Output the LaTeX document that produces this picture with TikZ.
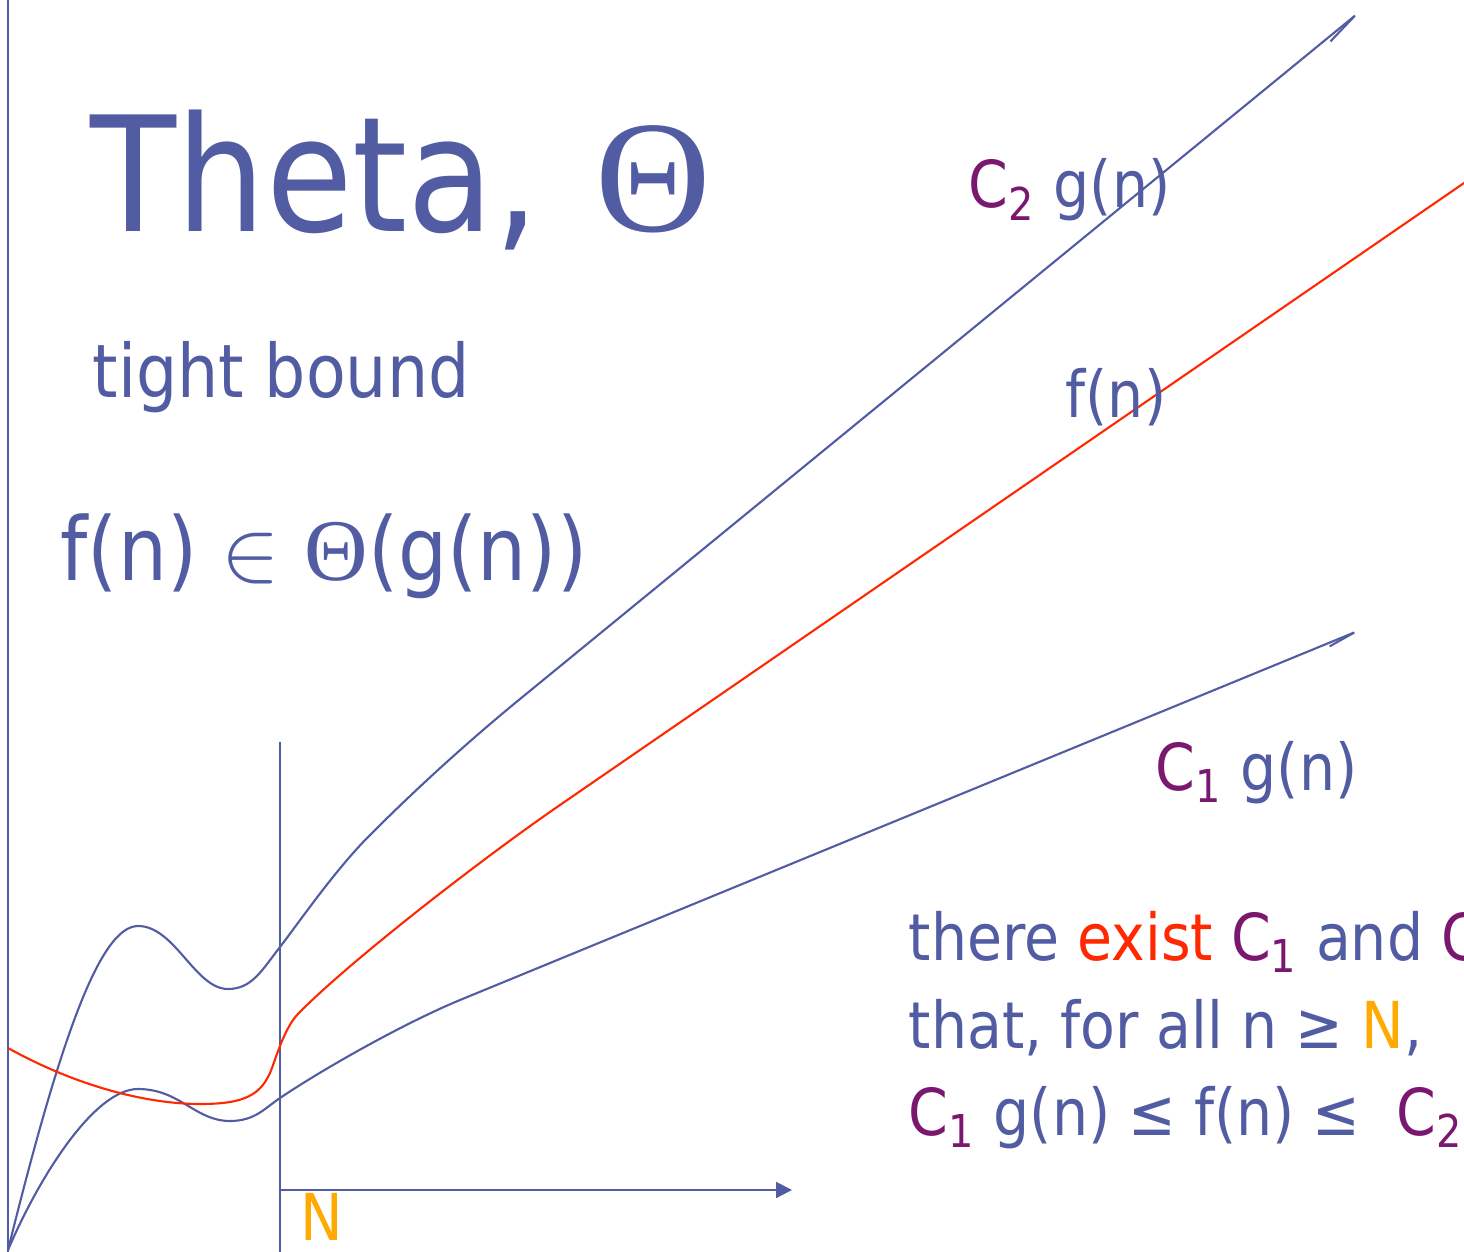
\documentclass[tikz,border=0pt]{standalone}
\usepackage{fontspec}
\setmainfont[FakeStretch=0.88]{DejaVu Sans}
\newfontfamily\greekfont{Liberation Serif}
\usetikzlibrary{arrows.meta}

\definecolor{slate}{RGB}{82,92,163}
\definecolor{plum}{RGB}{122,24,112}
\definecolor{hotred}{RGB}{255,40,0}
\definecolor{amber}{RGB}{255,170,0}

\newcommand{\Cone}{\textcolor{plum}{C\textsubscript{1}}}
\newcommand{\Ctwo}{\textcolor{plum}{C\textsubscript{2}}}

\begin{document}
\begin{tikzpicture}[
    x=0.01cm, y=-0.01cm,
    txt/.style={anchor=base west, inner sep=0pt, text=slate},
    small/.style={txt, font=\fontsize{18.4}{22}\selectfont},
    axis/.style={slate, line width=0.6pt},
    bound/.style={slate, line width=0.6pt},
    fline/.style={hotred, line width=0.6pt},
    barb/.style={-{Straight Barb[right, length=10pt, width=2.5pt]}},
    barbb/.style={-{Straight Barb[right, length=8pt, width=2pt]}}
]
\useasboundingbox (0,0) rectangle (1464,1252);
\clip (0,0) rectangle (1464,1252);

% axes
\coordinate (origin) at (8,1252);
\coordinate (top) at (8,0);
\coordinate (ntop) at (280,742);
\coordinate (nbot) at (280,1252);
\coordinate (xstart) at (280,1190);
\coordinate (xend) at (792,1190);
\draw[axis] (origin) -- (top);
\draw[axis] (nbot) -- (ntop);
\draw[axis, -{Triangle[length=4.5pt, width=4.5pt]}] (xstart) -- (xend);

% curve ends
\coordinate (start) at (8,1250);
\coordinate (uppertip) at (1368,5);
\coordinate (lowertip) at (1370,626);
\coordinate (fstart) at (8,1048);
\coordinate (fend) at (1480,172);

% C2 g(n)
\draw[bound, barb] (start) .. controls (60,1040) and (100,926) .. (138,926)
    .. controls (175,926) and (195,989) .. (228,989)
    .. controls (252,989) and (262,970) .. (280,947)
    .. controls (300,921) and (335,870) .. (370,835)
    .. controls (420,785) and (470,740) .. (520,699) -- (uppertip);
% C1 g(n)
\draw[bound, barbb] (start) .. controls (40,1175) and (95,1089) .. (138,1089)
    .. controls (180,1089) and (195,1121) .. (230,1121)
    .. controls (255,1121) and (265,1108) .. (280,1098)
    .. controls (320,1071) and (400,1025) .. (460,1000) -- (lowertip);
% f(n)
\draw[fline] (fstart) .. controls (80,1088) and (150,1104) .. (200,1104)
    .. controls (245,1104) and (262,1095) .. (272,1068)
    .. controls (276,1057) and (285,1028) .. (297,1015)
    .. controls (345,965) and (480,860) .. (560,805) -- (fend);

% texts
\node[txt, font=\fontsize{45.5}{54}\selectfont] (title) at (90,232)
    {Theta,\kern3.5pt{} {\greekfont Θ}};
\node[txt, font=\fontsize{21}{25}\selectfont] (tight) at (92,398) {tight bound};
\node[txt, font=\fontsize{25}{30}\selectfont] (member) at (60,580)
    {f(n) $\in$ {\greekfont Θ}(g(n))};

\node[small] (lblctwo) at (968,208) {\Ctwo{} g(n)};
\node[small] (lblf) at (1065,417) {f(n)};
\node[small] (lblcone) at (1155,790) {\Cone{} g(n)};
\node[small, text=amber] (lbln) at (300,1240) {N};

\node[small] (cond1) at (908,960)
    {there \textcolor{hotred}{exist} \Cone{} and \Ctwo};
\node[small] (cond2) at (908,1048)
    {that, for all n ≥ \textcolor{amber}{N},};
\node[small] (cond3) at (908,1135)
    {\Cone{} g(n) ≤ f(n) ≤ \ \Ctwo};
\end{tikzpicture}
\end{document}
